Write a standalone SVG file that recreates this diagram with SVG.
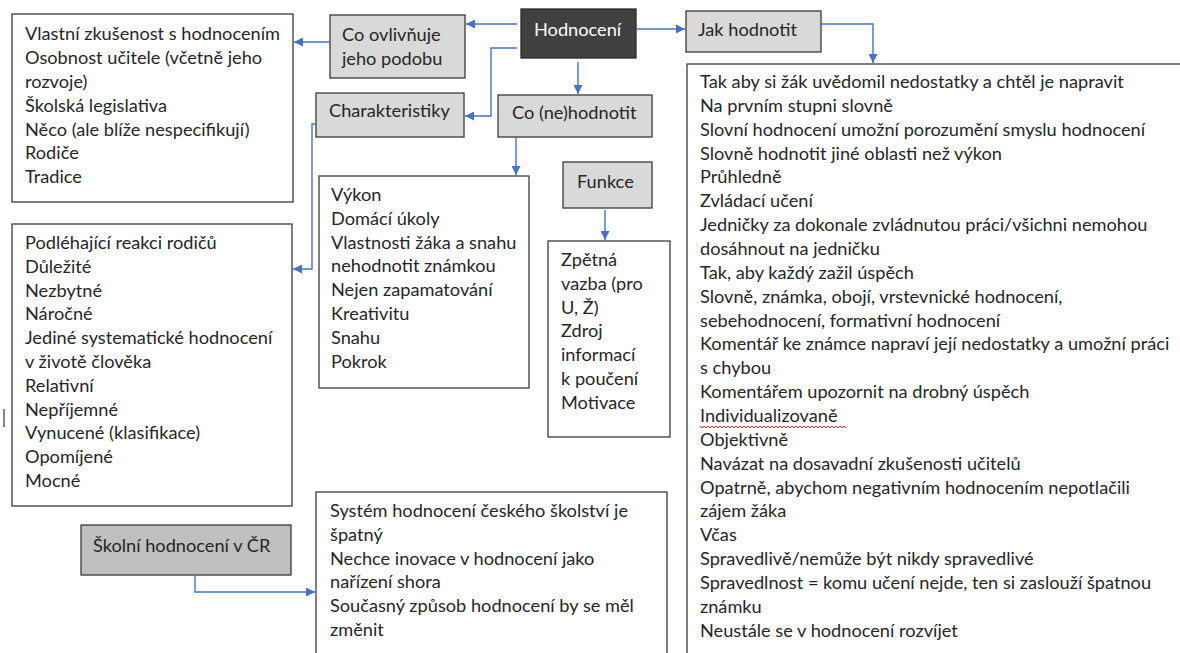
<svg xmlns="http://www.w3.org/2000/svg" width="1180" height="653" viewBox="0 0 1180 653">
  <style>
    text { font-family: Lato, "Liberation Sans", sans-serif; font-size: 18.2px; fill: #262626; }
    .box { fill: #ffffff; stroke: #3a3a3a; stroke-width: 1.3; }
    .grey { fill: #d9d9d9; stroke: #3a3a3a; stroke-width: 1.3; }
    .mid { fill: #bfbfbf; stroke: #3a3a3a; stroke-width: 1.3; }
    .dark { fill: #404040; stroke: #2a2a2a; stroke-width: 1.3; }
    text.light { fill: #ffffff; }
    .link { fill: none; stroke: #4472c4; stroke-width: 1.4; marker-end: url(#arrow); }
  </style>
  <defs>
    <marker id="arrow" viewBox="0 0 10 10" refX="10" refY="5" markerWidth="10" markerHeight="9" markerUnits="userSpaceOnUse" orient="auto">
      <path d="M0,0 L10,5 L0,10 z" fill="#4472c4"/>
    </marker>
  </defs>

  <!-- central node -->
  <g id="hodnoceni">
    <rect class="dark" x="521" y="9" width="115" height="49"/>
    <text class="light" x="534" y="36">Hodnocení</text>
  </g>

  <g id="co-ovlivnuje">
    <rect class="grey" x="330" y="15" width="135" height="63"/>
    <text x="342" y="41">Co ovlivňuje</text>
    <text x="342" y="65">jeho podobu</text>
  </g>

  <g id="vlivy">
    <rect class="box" x="12" y="14" width="281" height="188"/>
    <text x="25" y="40">Vlastní zkušenost s hodnocením</text>
    <text x="25" y="64">Osobnost učitele (včetně jeho</text>
    <text x="25" y="88">rozvoje)</text>
    <text x="25" y="112">Školská legislativa</text>
    <text x="25" y="135.5">Něco (ale blíže nespecifikují)</text>
    <text x="25" y="159">Rodiče</text>
    <text x="25" y="183">Tradice</text>
  </g>

  <g id="charakteristiky">
    <rect class="grey" x="316" y="93" width="148" height="44"/>
    <text x="329" y="117">Charakteristiky</text>
  </g>

  <g id="vlastnosti">
    <rect class="box" x="12" y="224" width="280" height="282"/>
    <text x="25" y="249">Podléhající reakci rodičů</text>
    <text x="25" y="272.8">Důležité</text>
    <text x="25" y="296.6">Nezbytné</text>
    <text x="25" y="320.4">Náročné</text>
    <text x="25" y="344.2">Jediné systematické hodnocení</text>
    <text x="25" y="368">v životě člověka</text>
    <text x="25" y="391.8">Relativní</text>
    <text x="25" y="415.6">Nepříjemné</text>
    <text x="25" y="439.4">Vynucené (klasifikace)</text>
    <text x="25" y="463.2">Opomíjené</text>
    <text x="25" y="487">Mocné</text>
  </g>

  <!-- stray cursor mark at the left margin -->
  <line x1="4" y1="409" x2="4" y2="427" stroke="#333333" stroke-width="1.2"/>

  <g id="co-nehodnotit">
    <rect class="grey" x="498" y="95" width="154" height="42"/>
    <text x="512" y="119">Co (ne)hodnotit</text>
  </g>

  <g id="predmet">
    <rect class="box" x="319" y="176" width="210" height="212"/>
    <text x="331" y="201">Výkon</text>
    <text x="331" y="224.8">Domácí úkoly</text>
    <text x="331" y="248.6">Vlastnosti žáka a snahu</text>
    <text x="331" y="272.4">nehodnotit známkou</text>
    <text x="331" y="296.2">Nejen zapamatování</text>
    <text x="331" y="320">Kreativitu</text>
    <text x="331" y="343.8">Snahu</text>
    <text x="331" y="367.6">Pokrok</text>
  </g>

  <g id="funkce">
    <rect class="grey" x="563" y="162" width="89" height="46"/>
    <text x="577" y="188">Funkce</text>
  </g>

  <g id="funkce-seznam">
    <rect class="box" x="548" y="241" width="122" height="196"/>
    <text x="561" y="266">Zpětná</text>
    <text x="561" y="289.8">vazba (pro</text>
    <text x="561" y="313.6">U, Ž)</text>
    <text x="561" y="337.4">Zdroj</text>
    <text x="561" y="361.2">informací</text>
    <text x="561" y="385">k poučení</text>
    <text x="561" y="408.8">Motivace</text>
  </g>

  <g id="jak-hodnotit">
    <rect class="grey" x="686" y="11" width="135" height="41"/>
    <text x="698" y="36">Jak hodnotit</text>
  </g>

  <g id="zpusoby">
    <rect class="box" x="687" y="64" width="520" height="620"/>
    <text x="700" y="88">Tak aby si žák uvědomil nedostatky a chtěl je napravit</text>
    <text x="700" y="111.9">Na prvním stupni slovně</text>
    <text x="700" y="135.7">Slovní hodnocení umožní porozumění smyslu hodnocení</text>
    <text x="700" y="159.6">Slovně hodnotit jiné oblasti než výkon</text>
    <text x="700" y="183.4">Průhledně</text>
    <text x="700" y="207.3">Zvládací učení</text>
    <text x="700" y="231.1">Jedničky za dokonale zvládnutou práci/všichni nemohou</text>
    <text x="700" y="255">dosáhnout na jedničku</text>
    <text x="700" y="278.8">Tak, aby každý zažil úspěch</text>
    <text x="700" y="302.7">Slovně, známka, obojí, vrstevnické hodnocení,</text>
    <text x="700" y="326.5">sebehodnocení, formativní hodnocení</text>
    <text x="700" y="350.4">Komentář ke známce napraví její nedostatky a umožní práci</text>
    <text x="700" y="374.2">s chybou</text>
    <text x="700" y="398.1">Komentářem upozornit na drobný úspěch</text>
    <text x="700" y="421.9">Individualizovaně</text>
    <!-- spell-check squiggle -->
    <path d="M700,426 l2,2 l2,-2 l2,2 l2,-2 l2,2 l2,-2 l2,2 l2,-2 l2,2 l2,-2 l2,2 l2,-2 l2,2 l2,-2 l2,2 l2,-2 l2,2 l2,-2 l2,2 l2,-2 l2,2 l2,-2 l2,2 l2,-2 l2,2 l2,-2 l2,2 l2,-2 l2,2 l2,-2 l2,2 l2,-2 l2,2 l2,-2 l2,2 l2,-2 l2,2 l2,-2 l2,2 l2,-2 l2,2 l2,-2 l2,2 l2,-2 l2,2 l2,-2 l2,2 l2,-2 l2,2 l2,-2 l2,2 l2,-2 l2,2 l2,-2 l2,2 l2,-2 l2,2 l2,-2 l2,2 l2,-2 l2,2 l2,-2 l2,2 l2,-2 l2,2 l2,-2 l2,2 l2,-2 l2,2 l2,-2 l2,2 l2,-2 l2,2" fill="none" stroke="#e02b2b" stroke-width="1"/>
    <text x="700" y="445.8">Objektivně</text>
    <text x="700" y="469.6">Navázat na dosavadní zkušenosti učitelů</text>
    <text x="700" y="493.5">Opatrně, abychom negativním hodnocením nepotlačili</text>
    <text x="700" y="517.3">zájem žáka</text>
    <text x="700" y="541.2">Včas</text>
    <text x="700" y="565">Spravedlivě/nemůže být nikdy spravedlivé</text>
    <text x="700" y="588.9">Spravedlnost = komu učení nejde, ten si zaslouží špatnou</text>
    <text x="700" y="612.7">známku</text>
    <text x="700" y="636.6">Neustále se v hodnocení rozvíjet</text>
  </g>

  <g id="skolni-hodnoceni">
    <rect class="mid" x="81" y="525" width="210" height="50"/>
    <text x="93" y="552">Školní hodnocení v ČR</text>
  </g>

  <g id="nazory">
    <rect class="box" x="316" y="492" width="351" height="200"/>
    <text x="330" y="517">Systém hodnocení českého školství je</text>
    <text x="330" y="540.8">špatný</text>
    <text x="330" y="564.6">Nechce inovace v hodnocení jako</text>
    <text x="330" y="588.4">nařízení shora</text>
    <text x="330" y="612.2">Současný způsob hodnocení by se měl</text>
    <text x="330" y="636">změnit</text>
  </g>

  <g id="connectors">
    <path class="link" d="M517,24 H466"/>
    <path class="link" d="M517,48 H491 V116 H465"/>
    <path class="link" d="M578,62 V94"/>
    <path class="link" d="M636,29 H685"/>
    <path class="link" d="M821,24 H873 V63"/>
    <path class="link" d="M330,42 H294"/>
    <path class="link" d="M316,124 H312 V269 H293"/>
    <path class="link" d="M516,137 V175"/>
    <path class="link" d="M605,210 V240"/>
    <path class="link" d="M195,575 V592 H315"/>
  </g>
</svg>
